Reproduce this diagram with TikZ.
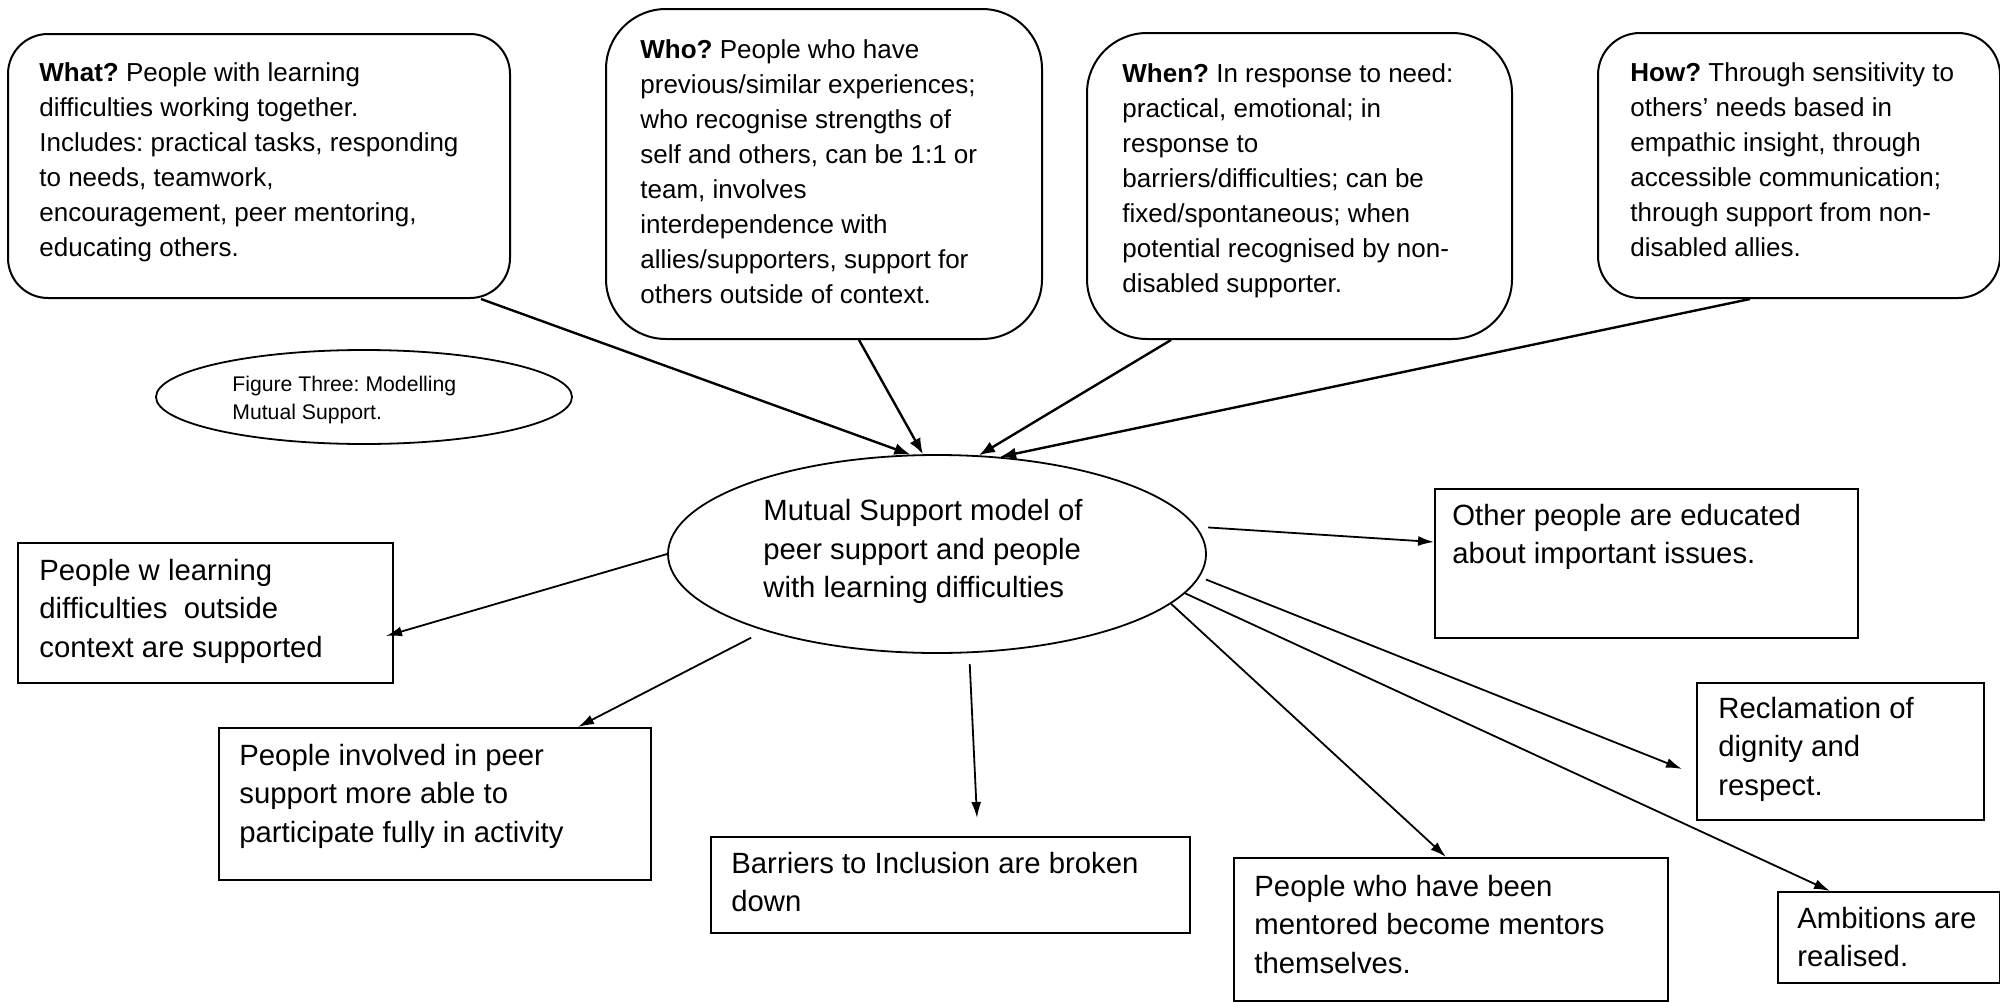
\documentclass[tikz,border=0pt]{standalone}
\usepackage{fontspec}
\setmainfont{Liberation Sans}
\usetikzlibrary{arrows.meta,shapes.geometric,calc}
\frenchspacing
\begin{document}
\begin{tikzpicture}[x=0.5pt,y=-0.5pt,
  rbox/.style={draw, line width=1pt, rectangle, anchor=north west, inner sep=0pt},
  sbox/.style={draw, line width=1pt, rectangle, anchor=north west, inner sep=0pt},
  ell/.style={draw, line width=0.9pt, ellipse, inner sep=0pt},
  toptext/.style={anchor=north west, inner sep=0pt, align=left, font=\frenchspacing\fontsize{13}{17.5}\selectfont},
  lowtext/.style={anchor=north west, inner sep=0pt, align=left, font=\frenchspacing\fontsize{14.65}{19.25}\selectfont},
  captext/.style={anchor=north west, inner sep=0pt, align=left, font=\frenchspacing\fontsize{10.6}{14}\selectfont},
  toparr/.style={-{Latex[length=8pt,width=6pt]}, line width=1.2pt},
  lowarr/.style={-{Latex[length=8pt,width=5pt]}, line width=0.9pt},
]
\useasboundingbox (0,0) rectangle (2000,1001);

% top rounded boxes
\node[rbox, rounded corners=20pt, minimum width=251pt, minimum height=132pt] (what) at (7,33) {};
\node[rbox, rounded corners=30pt, minimum width=218pt, minimum height=165pt] (who) at (605,8) {};
\node[rbox, rounded corners=30pt, minimum width=212.5pt, minimum height=153pt] (when) at (1086,32) {};
\node[rbox, rounded corners=21pt, minimum width=201pt, minimum height=132.5pt] (how) at (1597,32) {};

\node[toptext] (whatT) at (39,56.5) {\strut\textbf{What?} People with learning\\ difficulties working together.\\ Includes: practical tasks, responding\\ to needs, teamwork,\\ encouragement, peer mentoring,\\ educating others.};
\node[toptext] (whoT) at (640,34) {\strut\textbf{Who?} People who have\\ previous/similar experiences;\\ who recognise strengths of\\ self and others, can be 1:1 or\\ team, involves\\ interdependence with\\ allies/supporters, support for\\ others outside of context.};
\node[toptext] (whenT) at (1122,57.5) {\strut\textbf{When?} In response to need:\\ practical, emotional; in\\ response to\\ barriers/difficulties; can be\\ fixed/spontaneous; when\\ potential recognised by non-\\ disabled supporter.};
\node[toptext] (howT) at (1630,56.5) {\strut\textbf{How?} Through sensitivity to\\ others' needs based in\\ empathic insight, through\\ accessible communication;\\ through support from non-\\ disabled allies.};

% caption ellipse
\node[ell, minimum width=208pt, minimum height=47pt] (cap) at (364,397) {};
\node[captext] (capT) at (232,371) {\strut Figure Three: Modelling\\ Mutual Support.};

% main ellipse
\node[ell, minimum width=269pt, minimum height=99pt] (main) at (937,554) {};
\node[lowtext] (mainT) at (763,493.5) {\strut Mutual Support model of\\ peer support and people\\ with learning difficulties};

% outcome boxes
\node[sbox, minimum width=187.5pt, minimum height=70pt] (pplw) at (17,542) {};
\node[sbox, minimum width=216pt, minimum height=76pt] (involved) at (218,727) {};
\node[sbox, minimum width=239.5pt, minimum height=48pt] (barriers) at (710,836) {};
\node[sbox, minimum width=217pt, minimum height=71.5pt] (mentored) at (1233,857) {};
\node[sbox, minimum width=111pt, minimum height=45.5pt] (ambitions) at (1777,891) {};
\node[sbox, minimum width=143.5pt, minimum height=68.5pt] (reclam) at (1696,682) {};
\node[sbox, minimum width=211.5pt, minimum height=74.5pt] (other) at (1434,488) {};

\node[lowtext] (pplwT) at (39,553) {\strut People w learning\\ difficulties\ \ outside\\ context are supported};
\node[lowtext] (involvedT) at (239,738) {\strut People involved in peer\\ support more able to\\ participate fully in activity};
\node[lowtext] (barriersT) at (731,846) {\strut Barriers to Inclusion are broken\\ down};
\node[lowtext] (mentoredT) at (1254,869) {\strut People who have been\\ mentored become mentors\\ themselves.};
\node[lowtext] (ambitionsT) at (1797,901) {\strut Ambitions are\\ realised.};
\node[lowtext] (reclamT) at (1718,691) {\strut Reclamation of\\ dignity and\\ respect.};
\node[lowtext] (otherT) at (1452,498) {\strut Other people are educated\\ about important issues.};

% incoming arrows
\draw[toparr] ([xshift=-15pt]what.south east) -- (main.105.8);
\draw[toparr] ([xshift=17.5pt]who.south) -- (main.98.4);
\draw[toparr] ([xshift=42.5pt]when.south west) -- (main.67.4);
\draw[toparr] ([xshift=76.5pt]how.south west) -- (main.57.8);

% outgoing arrows
\draw[lowarr] (main.180.9) -- ([xshift=-4pt,yshift=-11.5pt]pplw.east);
\draw[lowarr, shorten <=7.5pt] (main.204.5) -- ([xshift=180pt]involved.north west);
\draw[lowarr, shorten <=5.5pt] (main.288.6) -- ([xshift=13.25pt,yshift=9pt]barriers.north);
\draw[lowarr] (main.348.1) -- ([xshift=106.5pt]mentored.north west);
\draw[lowarr] (main.351.3) -- ([xshift=26.5pt]ambitions.north west);
\draw[lowarr, shorten <=3.4pt] (main.355.3) -- ([xshift=-7pt,yshift=-8.75pt]reclam.west);
\draw[lowarr, shorten <=5.8pt] (main.6.4) -- ([yshift=10.75pt]other.west);
\end{tikzpicture}
\end{document}
